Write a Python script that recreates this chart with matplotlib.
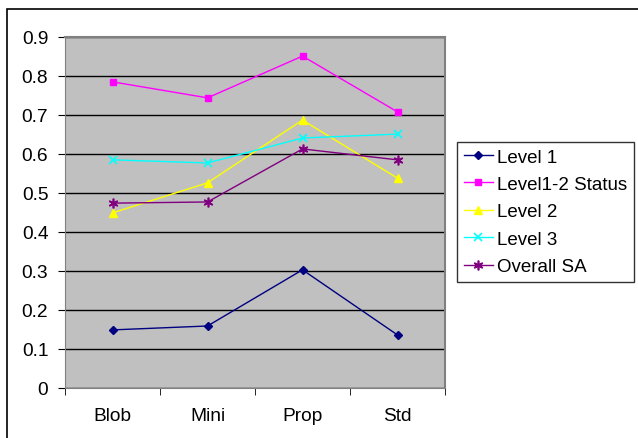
import numpy as np
import matplotlib
matplotlib.use("Agg")
import matplotlib.pyplot as plt
from matplotlib.patches import Rectangle

plt.rcParams['font.family'] = ['Liberation Sans', 'DejaVu Sans']

categories = ["Blob", "Mini", "Prop", "Std"]
level1 = [0.149, 0.159, 0.303, 0.136]
level12_status = [0.785, 0.744, 0.851, 0.708]
level2 = [0.449, 0.526, 0.687, 0.538]
level3 = [0.585, 0.577, 0.641, 0.651]
overall_sa = [0.474, 0.477, 0.613, 0.585]

fig = plt.figure(figsize=(6.38, 4.39), dpi=100)
# outer chart border (runs off right/bottom edge)
fig.patches.append(Rectangle((7 / 638, -0.05), 1.0, (439 - 10) / 439 + 0.05,
                             transform=fig.transFigure, fill=False,
                             edgecolor='black', linewidth=1.2))

ax = fig.add_axes([65 / 638, 50 / 439, 380 / 638, 351 / 439])
ax.set_facecolor('#C0C0C0')

x = np.arange(len(categories))
ax.plot(x, level1, color='#000080', marker='D', markersize=4, lw=1, label='Level 1')
ax.plot(x, level12_status, color='#FF00FF', marker='s', markersize=5, lw=1, label='Level1-2 Status')
ax.plot(x, level2, color='#FFFF00', marker='^', markersize=6, lw=1, label='Level 2')
ax.plot(x, level3, color='#00FFFF', marker='x', markersize=6, mew=1.2, lw=1, label='Level 3')
ax.plot(x, overall_sa, color='#800080', marker=(6, 2, 0), markersize=7, mew=1.2, lw=1, label='Overall SA')

ax.set_xlim(-0.5, 3.5)
ax.set_ylim(0, 0.9)
ax.set_yticks(np.arange(0, 0.91, 0.1))
ax.set_yticklabels(['0'] + ['%.1f' % v for v in np.arange(0.1, 0.91, 0.1)])
ax.yaxis.grid(True, color='black', lw=1)
ax.set_axisbelow(True)

ax.set_xticks(x)
ax.set_xticklabels(categories)
ax.set_xticks(np.arange(-0.5, 3.6, 1), minor=True)
ax.tick_params(axis='x', which='major', length=0, pad=14, labelsize=13.8)
ax.tick_params(axis='x', which='minor', length=5, direction='out')
ax.tick_params(axis='y', length=5, direction='out', labelsize=13.8, pad=7)

for s in ['top', 'right']:
    ax.spines[s].set_color('#808080')
    ax.spines[s].set_linewidth(1.5)
ax.spines['left'].set_color('#808080')
ax.spines['bottom'].set_color('#808080')

leg = ax.legend(loc='center left', bbox_to_anchor=(457 / 638, 0.515), bbox_transform=fig.transFigure,
                fontsize=13.5, frameon=True, fancybox=False, edgecolor='black',
                borderpad=0.35, labelspacing=0.55, handlelength=1.55, handletextpad=0.25,
                borderaxespad=0)
leg.get_frame().set_linewidth(1)

fig.savefig('out.png', dpi=100)
